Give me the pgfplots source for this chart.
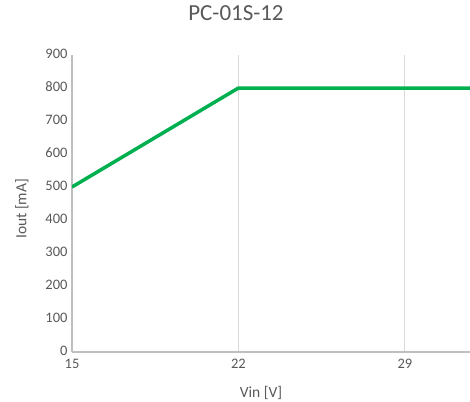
\documentclass[border=0pt]{standalone}
\usepackage{pgfplots}
\pgfplotsset{compat=1.18}
\usepackage{fontspec}
\setmainfont{Carlito}
\definecolor{txtgray}{HTML}{595959}
\definecolor{axisgray}{HTML}{BFBFBF}
\definecolor{gridgray}{HTML}{D9D9D9}
\definecolor{linegreen}{HTML}{00B050}
\begin{document}
\begin{tikzpicture}[x=1pt,y=1pt]
\path[use as bounding box] (-72,-49) rectangle (398,352);
\begin{axis}[
    at={(0,0)}, anchor=south west,
    scale only axis,
    width=398pt, height=297pt,
    xmin=15, xmax=31.74,
    ymin=0, ymax=900,
    xtick={15,22,29},
    ytick={0,100,...,900},
    axis x line*=bottom,
    axis y line*=left,
    axis line style={axisgray, line width=1.2pt},
    major tick length=0pt,
    xmajorgrids,
    grid style={gridgray, line width=1.2pt},
    /pgf/number format/assume math mode=true,
    ticklabel style={font=\fontsize{14.5}{17}\selectfont, text=txtgray, inner ysep=0pt},
    xticklabel style={yshift=-7pt},
    yticklabel style={xshift=-1pt, yshift=1pt},
    title={PC-01S-12},
    title style={font=\fontsize{23}{27}\selectfont, text=txtgray,
        at={(axis description cs:0.412,1.1205)}, anchor=center},
    xlabel={Vin [V]},
    xlabel style={font=\fontsize{15.5}{18}\selectfont, text=txtgray,
        at={(axis description cs:0.475,-0.137)}, anchor=center},
    ylabel={Iout [mA]},
    ylabel style={font=\fontsize{15.5}{18}\selectfont, text=txtgray,
        at={(axis description cs:-0.126,0.482)}, anchor=center, rotate=0},
]
\addplot[linegreen, line width=3.5pt, mark=none]
    coordinates {(15,500) (22,800) (32,800)};
\end{axis}
\end{tikzpicture}
\end{document}
